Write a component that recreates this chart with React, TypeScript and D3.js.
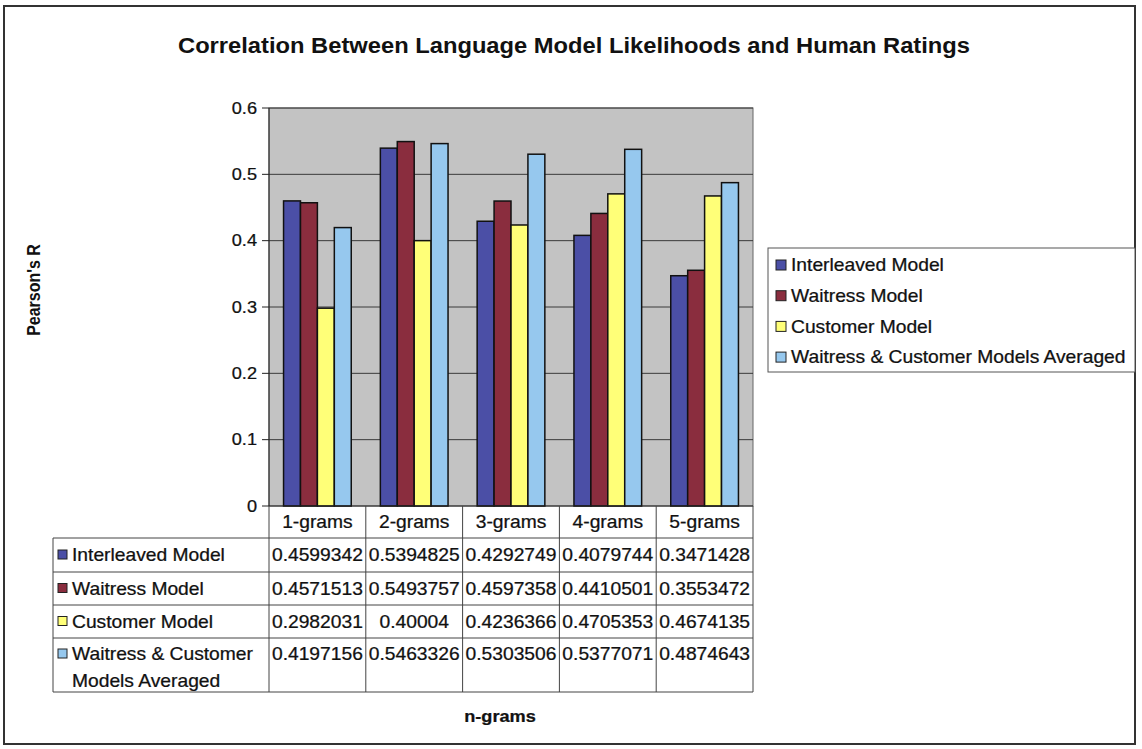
import React from "react";
import * as d3 from "d3";

const categories = ["1-grams", "2-grams", "3-grams", "4-grams", "5-grams"];
const seriesNames = [
  "Interleaved Model",
  "Waitress Model",
  "Customer Model",
  "Waitress & Customer Models Averaged",
];
const tableLabels = [
  ["Interleaved Model"],
  ["Waitress Model"],
  ["Customer Model"],
  ["Waitress & Customer", "Models Averaged"],
];
const interleaved = [0.4599342, 0.5394825, 0.4292749, 0.4079744, 0.3471428];
const waitress = [0.4571513, 0.5493757, 0.4597358, 0.4410501, 0.3553472];
const customer = [0.2982031, 0.40004, 0.4236366, 0.4705353, 0.4674135];
const averaged = [0.4197156, 0.5463326, 0.5303506, 0.5377071, 0.4874643];
const tableText = [
  ["0.4599342", "0.5394825", "0.4292749", "0.4079744", "0.3471428"],
  ["0.4571513", "0.5493757", "0.4597358", "0.4410501", "0.3553472"],
  ["0.2982031", "0.40004", "0.4236366", "0.4705353", "0.4674135"],
  ["0.4197156", "0.5463326", "0.5303506", "0.5377071", "0.4874643"],
];
const yTicks = [0, 0.1, 0.2, 0.3, 0.4, 0.5, 0.6];
const colors = ["#4B4FA6", "#8A2D3E", "#FFFF78", "#96C8EE"];

const FONT = "'Liberation Sans', Arial, sans-serif";
const SX = 1.1;

function T(props: {
  x: number;
  y: number;
  anchor?: "start" | "middle" | "end";
  size?: number;
  bold?: boolean;
  children: React.ReactNode;
}) {
  const { x, y, anchor = "start", size = 17.5, bold = false, children } = props;
  return (
    <g transform={`translate(${x},${y}) scale(${SX},1)`}>
      <text
        x={0}
        y={0}
        textAnchor={anchor}
        dominantBaseline="central"
        fontFamily={FONT}
        fontSize={size}
        fontWeight={bold ? "bold" : "normal"}
        fill="#111"
        stroke="#111"
        strokeWidth={0.25}
      >
        {children}
      </text>
    </g>
  );
}

export default function App() {
  const W = 1142;
  const H = 749;
  const plotL = 269;
  const plotR = 753;
  const plotT = 108;
  const plotB = 506;

  const values = [interleaved, waitress, customer, averaged];

  const x0 = d3.scaleBand<string>().domain(categories).range([plotL, plotR]).padding(0);
  const x1 = d3
    .scaleBand<string>()
    .domain(seriesNames)
    .range([0, x0.bandwidth()])
    .paddingInner(0)
    .paddingOuter(0.86);
  const y = d3.scaleLinear().domain([0, 0.6]).range([plotB, plotT]);

  const tableLeft = 53;
  const headerBottom = 538;
  const rowLines = [538, 572, 605, 638, 692];

  return (
    <div style={{ position: "absolute", left: 0, top: 0, width: W, height: H, background: "#fff" }}>
      <svg width={W} height={H} style={{ display: "block" }}>
        <rect x={0} y={0} width={W} height={H} fill="#fff" />
        <rect x={4} y={6} width={1131} height={738} fill="none" stroke="#333" strokeWidth={2} />

        <text
          x={574}
          y={45}
          textAnchor="middle"
          dominantBaseline="central"
          fontFamily={FONT}
          fontSize={22}
          fontWeight="bold"
          textLength={792}
          lengthAdjust="spacingAndGlyphs"
          fill="#111"
        >
          Correlation Between Language Model Likelihoods and Human Ratings
        </text>

        {/* plot area */}
        <rect x={plotL} y={plotT} width={plotR - plotL} height={plotB - plotT} fill="#C3C3C3" stroke="#666" strokeWidth={1} />
        {yTicks.slice(1).map((t) => (
          <line key={t} x1={plotL} x2={plotR} y1={y(t)} y2={y(t)} stroke="#3a3a3a" strokeWidth={1} />
        ))}

        {/* bars */}
        {values.map((vals, si) =>
          vals.map((v, ci) => (
            <rect
              key={`${si}-${ci}`}
              x={(x0(categories[ci]) as number) + (x1(seriesNames[si]) as number)}
              y={y(v)}
              width={x1.bandwidth()}
              height={y(0) - y(v)}
              fill={colors[si]}
              stroke="#111"
              strokeWidth={1.5}
            />
          ))
        )}

        {/* y axis */}
        <line x1={plotL} x2={plotL} y1={plotT} y2={plotB} stroke="#222" strokeWidth={1} />
        {yTicks.map((t) => (
          <g key={t}>
            <line x1={plotL - 7} x2={plotL} y1={y(t)} y2={y(t)} stroke="#222" strokeWidth={1} />
            <T x={plotL - 12} y={y(t)} anchor="end" size={16.5}>
              {t === 0 ? "0" : t.toFixed(1)}
            </T>
          </g>
        ))}
        <g transform={`translate(34,290) rotate(-90) scale(1,1.1)`}>
          <text
            x={0}
            y={0}
            textAnchor="middle"
            dominantBaseline="central"
            fontFamily={FONT}
            fontSize={16}
            fontWeight="bold"
            fill="#111"
          >
            Pearson's R
          </text>
        </g>

        {/* data table */}
        <line x1={plotL} x2={plotR} y1={plotB} y2={plotB} stroke="#222" strokeWidth={1} />
        {rowLines.map((ry, i) => (
          <line key={i} x1={tableLeft} x2={plotR} y1={ry} y2={ry} stroke="#444" strokeWidth={1} />
        ))}
        <line x1={tableLeft} x2={tableLeft} y1={headerBottom} y2={692} stroke="#444" strokeWidth={1} />
        {categories.map((c) => (
          <line
            key={c}
            x1={x0(c) as number}
            x2={x0(c) as number}
            y1={plotB}
            y2={692}
            stroke="#444"
            strokeWidth={1}
          />
        ))}
        <line x1={plotR} x2={plotR} y1={plotB} y2={692} stroke="#444" strokeWidth={1} />
        {categories.map((c) => (
          <T key={c} x={(x0(c) as number) + x0.bandwidth() / 2} y={522} anchor="middle">
            {c}
          </T>
        ))}
        {tableLabels.map((lines, ri) => {
          const cy = (rowLines[ri] + rowLines[ri + 1]) / 2;
          const firstY = ri === 3 ? rowLines[ri] + 16 : cy;
          return (
            <g key={ri}>
              <rect
                x={58}
                y={firstY - 5}
                width={9}
                height={9}
                fill={colors[ri]}
                stroke="#222"
                strokeWidth={1}
              />
              {lines.map((ln, li) => (
                <T key={li} x={72} y={firstY + li * 27}>
                  {ln}
                </T>
              ))}
              {tableText[ri].map((tv, ci) => (
                <T key={ci} x={(x0(categories[ci]) as number) + x0.bandwidth() / 2} y={firstY} anchor="middle">
                  {tv}
                </T>
              ))}
            </g>
          );
        })}
        <T x={500} y={716} anchor="middle" size={16.5} bold>
          n-grams
        </T>

        {/* legend */}
        <rect x={768} y={248} width={367} height={124} fill="#fff" stroke="#555" strokeWidth={1} />
        {seriesNames.map((s, i) => {
          const ly = 265 + i * 30.7;
          return (
            <g key={s}>
              <rect x={776} y={ly - 5} width={10} height={10} fill={colors[i]} stroke="#222" strokeWidth={1} />
              <T x={791} y={ly}>
                {s}
              </T>
            </g>
          );
        })}
      </svg>
    </div>
  );
}
